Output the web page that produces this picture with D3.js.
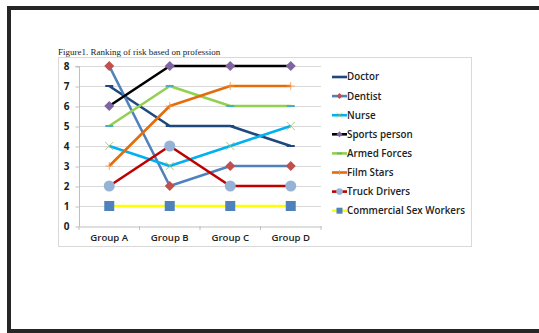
<!DOCTYPE html>
<html><head><meta charset="utf-8">
<script src="https://cdn.jsdelivr.net/npm/d3@7"></script>
<style>html,body{margin:0;padding:0;background:#fff;}svg{display:block;}</style>
</head><body>
<script>
const categories = ["Group A", "Group B", "Group C", "Group D"];
const seriesNames = ["Doctor", "Dentist", "Nurse", "Sports person", "Armed Forces", "Film Stars", "Truck Drivers", "Commercial Sex Workers"];
const doctor = [7, 5, 5, 4];
const dentist = [8, 2, 3, 3];
const nurse = [4, 3, 4, 5];
const sportsPerson = [6, 8, 8, 8];
const armedForces = [5, 7, 6, 6];
const filmStars = [3, 6, 7, 7];
const truckDrivers = [2, 4, 2, 2];
const sexWorkers = [1, 1, 1, 1];
const yTicks = [0, 1, 2, 3, 4, 5, 6, 7, 8];
const title = "Figure1.  Ranking of risk based on profession";

const values = [doctor, dentist, nurse, sportsPerson, armedForces, filmStars, truckDrivers, sexWorkers];
const styles = [
  {line:"#1F497D", marker:"dash", mcol:"#1F497D"},
  {line:"#4F81BD", marker:"diamond", mcol:"#C0504D"},
  {line:"#00B0F0", marker:"x", mcol:"#9BBB59"},
  {line:"#000000", marker:"diamond", mcol:"#8064A2"},
  {line:"#92D050", marker:"dash", mcol:"#4BACC6"},
  {line:"#E46C0A", marker:"plus", mcol:"#F79646"},
  {line:"#C00000", marker:"circle", mcol:"#95B3D7"},
  {line:"#FFFF00", marker:"square", mcol:"#4F81BD"}
];

const W = 539, H = 333;
const svg = d3.select("body").append("svg").attr("width", W).attr("height", H);
const sans = "Open Sans, Lato, sans-serif";

// page frame
svg.append("rect").attr("x", 7).attr("y", 6).attr("width", W - 7).attr("height", 4).attr("fill", "#262626");
svg.append("rect").attr("x", 7).attr("y", 6).attr("width", 4).attr("height", H - 6).attr("fill", "#262626");
svg.append("rect").attr("x", 7).attr("y", 329).attr("width", W - 7).attr("height", 4).attr("fill", "#262626");

// title
svg.append("text").attr("x", 58).attr("y", 55).attr("font-family", "Liberation Serif, Times New Roman, serif")
  .attr("font-size", 9).attr("fill", "#222").text(title);

// chart box
svg.append("rect").attr("x", 58.5).attr("y", 57.5).attr("width", 413).attr("height", 189)
  .attr("fill", "#fff").attr("stroke", "#d9d9d9").attr("stroke-width", 1);

const x0 = 79, x1 = 321, yTop = 66, yBot = 226;
const x = d3.scaleBand().domain(categories).range([x0, x1]);
const y = d3.scaleLinear().domain([0, 8]).range([yBot, yTop]);
const cx = c => x(c) + x.bandwidth() / 2;

// gridlines
svg.append("g").selectAll("line").data(yTicks.filter(d => d > 0)).join("line")
  .attr("x1", x0).attr("x2", x1).attr("y1", d => Math.round(y(d)) + 0.5).attr("y2", d => Math.round(y(d)) + 0.5)
  .attr("stroke", "#d9d9d9").attr("stroke-width", 1);

// y axis
const yAxis = d3.axisLeft(y).tickValues(yTicks).tickSize(4).tickPadding(6);
const gy = svg.append("g").attr("transform", `translate(${x0 + 0.5},0.5)`).call(yAxis);
gy.select(".domain").attr("stroke", "#bfbfbf").attr("d", `M-4,${yTop}H0V${yBot}`);
gy.selectAll(".tick line").attr("stroke", "#bfbfbf");
gy.selectAll(".tick text").attr("font-family", sans).attr("font-size", 10)
  .attr("font-weight", 700).attr("fill", "#222").attr("text-anchor", "middle").attr("x", -13);

// x axis
const xAxis = d3.axisBottom(x).tickSize(0).tickPadding(8);
const gx = svg.append("g").attr("transform", `translate(0,${yBot + 0.5})`).call(xAxis);
gx.select(".domain").attr("stroke", "#bfbfbf");
gx.selectAll(".tick text").attr("font-family", sans).attr("font-size", 9.6)
  .attr("font-weight", 600).attr("fill", "#222");
// boundary ticks
svg.append("g").selectAll("line").data(d3.range(categories.length + 1)).join("line")
  .attr("x1", i => x0 + i * x.bandwidth()).attr("x2", i => x0 + i * x.bandwidth())
  .attr("y1", yBot).attr("y2", yBot + 4).attr("stroke", "#bfbfbf");

function drawMarker(g, type, col, px, py) {
  if (type === "diamond") {
    g.append("path").attr("d", `M${px},${py - 5}L${px + 5},${py}L${px},${py + 5}L${px - 5},${py}Z`).attr("fill", col);
  } else if (type === "square") {
    g.append("rect").attr("x", px - 5).attr("y", py - 5).attr("width", 10).attr("height", 10).attr("fill", col);
  } else if (type === "circle") {
    g.append("circle").attr("cx", px).attr("cy", py).attr("r", 5.5).attr("fill", col);
  } else if (type === "dash") {
    g.append("line").attr("x1", px - 4).attr("x2", px + 4).attr("y1", py).attr("y2", py).attr("stroke", col).attr("stroke-width", 2);
  } else if (type === "x") {
    g.append("path").attr("d", `M${px - 4},${py - 4}L${px + 4},${py + 4}M${px - 4},${py + 4}L${px + 4},${py - 4}`)
      .attr("stroke", col).attr("stroke-width", 0.8).attr("fill", "none");
  } else if (type === "plus") {
    g.append("path").attr("d", `M${px - 4},${py}L${px + 4},${py}M${px},${py - 4}L${px},${py + 4}`)
      .attr("stroke", col).attr("stroke-width", 0.8).attr("fill", "none");
  }
}

const line = d3.line().x((d, i) => cx(categories[i])).y(d => y(d));
const plot = svg.append("g");
values.forEach((vals, si) => {
  plot.append("path").datum(vals).attr("d", line).attr("fill", "none")
    .attr("stroke", styles[si].line).attr("stroke-width", 2.6).attr("stroke-linejoin", "round");
  vals.forEach((v, i) => drawMarker(plot, styles[si].marker, styles[si].mcol, cx(categories[i]), y(v)));
});

// legend
const lg = svg.append("g");
seriesNames.forEach((n, i) => {
  const ly = 77 + i * 19.1;
  lg.append("line").attr("x1", 332).attr("x2", 347).attr("y1", ly).attr("y2", ly)
    .attr("stroke", styles[i].line).attr("stroke-width", 2.6);
  const mType = styles[i].marker;
  if (mType === "diamond") {
    lg.append("path").attr("d", `M339.5,${ly - 3}L342.5,${ly}L339.5,${ly + 3}L336.5,${ly}Z`).attr("fill", styles[i].mcol);
  } else if (mType === "square") {
    lg.append("rect").attr("x", 336.5).attr("y", ly - 3).attr("width", 6).attr("height", 6).attr("fill", styles[i].mcol);
  } else if (mType === "circle") {
    lg.append("circle").attr("cx", 339.5).attr("cy", ly).attr("r", 3.3).attr("fill", styles[i].mcol);
  } else if (mType === "dash") {
    lg.append("line").attr("x1", 337).attr("x2", 342).attr("y1", ly).attr("y2", ly).attr("stroke", styles[i].mcol).attr("stroke-width", 1.5);
  } else if (mType === "x") {
    lg.append("path").attr("d", `M337,${ly - 2.5}L342,${ly + 2.5}M337,${ly + 2.5}L342,${ly - 2.5}`).attr("stroke", styles[i].mcol).attr("stroke-width", 0.7);
  } else if (mType === "plus") {
    lg.append("path").attr("d", `M339.5,${ly - 2.5}L339.5,${ly + 2.5}`).attr("stroke", styles[i].mcol).attr("stroke-width", 0.7);
  }
  lg.append("text").attr("x", 347).attr("y", ly).attr("dy", "0.35em")
    .attr("font-family", sans).attr("font-size", 9.8).attr("font-weight", 600)
    .attr("fill", "#222").text(n);
});
</script>
</body></html>
